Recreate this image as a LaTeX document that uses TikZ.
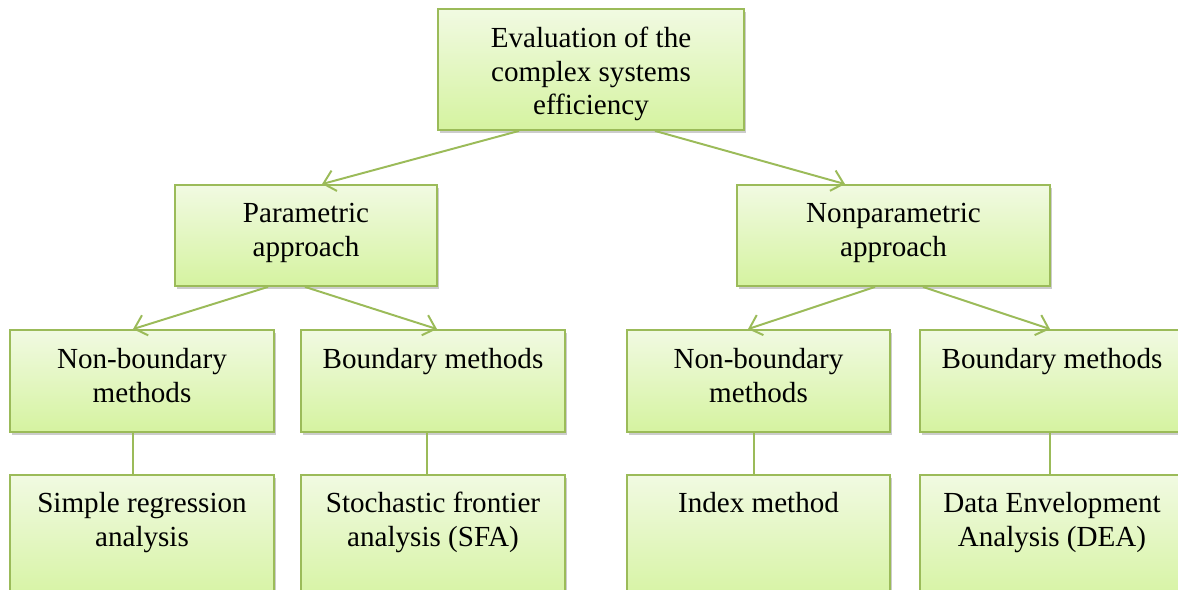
\documentclass[tikz,border=0pt]{standalone}
\usepackage{fontspec}
\setmainfont{Liberation Serif}
\usetikzlibrary{calc,shadows,arrows.meta}

\definecolor{boxline}{RGB}{155,187,89}
\definecolor{boxtop}{RGB}{241,250,226}
\definecolor{boxbottom}{RGB}{213,243,160}

\def\px{0.025cm}

\tikzset{
  box/.style={draw=boxline, line width=1.3pt, top color=boxtop, bottom color=boxbottom,
    inner sep=0, drop shadow={shadow xshift=1.6pt, shadow yshift=-2.2pt, opacity=0.4}},
  lbl/.style={inner sep=0, anchor=north, align=center,
    font=\fontsize{20.7}{23.8}\selectfont},
  link/.style={draw=boxline, line width=1.4pt},
  linkarrow/.style={link, -{Straight Barb[length=8pt, width=15pt, line width=1.4pt]}}
}

\begin{document}
\begin{tikzpicture}[x=\px, y=-\px]
  \useasboundingbox (0,0) rectangle (1178,590);
  \clip (0,0) rectangle (1178,590);

  % top
  \node[box, minimum width=306*\px, minimum height=121*\px] (eval) at (591,69.5) {};
  \node[lbl] (evaltxt) at ($ (eval.north) + (0,19) $) {Evaluation of the\\complex systems\\efficiency};

  % second row
  \node[box, minimum width=262*\px, minimum height=101*\px] (param) at (306,235.5) {};
  \node[lbl] (paramtxt) at ($ (param.north) + (0,19) $) {Parametric\\approach};
  \node[box, minimum width=313*\px, minimum height=101*\px] (nonparam) at (893.5,235.5) {};
  \node[lbl] (nonparamtxt) at ($ (nonparam.north) + (0,19) $) {Nonparametric\\approach};

  % third row
  \node[box, minimum width=264*\px, minimum height=102*\px] (nbleft) at (142,381) {};
  \node[lbl] (nblefttxt) at ($ (nbleft.north) + (0,19) $) {Non-boundary\\methods};
  \node[box, minimum width=264*\px, minimum height=102*\px] (bleft) at (433,381) {};
  \node[lbl] (blefttxt) at ($ (bleft.north) + (0,19) $) {Boundary methods};
  \node[box, minimum width=263*\px, minimum height=102*\px] (nbright) at (758.5,381) {};
  \node[lbl] (nbrighttxt) at ($ (nbright.north) + (0,19) $) {Non-boundary\\methods};
  \node[box, minimum width=264*\px, minimum height=102*\px] (bright) at (1052,381) {};
  \node[lbl] (brighttxt) at ($ (bright.north) + (0,19) $) {Boundary methods};

  % bottom row
  \node[box, minimum width=264*\px, minimum height=130*\px] (regr) at (142,540) {};
  \node[lbl] (regrtxt) at ($ (regr.north) + (0,18) $) {Simple regression\\analysis};
  \node[box, minimum width=264*\px, minimum height=130*\px] (sfa) at (433,540) {};
  \node[lbl] (sfatxt) at ($ (sfa.north) + (0,18) $) {Stochastic frontier\\analysis (SFA)};
  \node[box, minimum width=263*\px, minimum height=130*\px] (index) at (758.5,540) {};
  \node[lbl] (indextxt) at ($ (index.north) + (0,18) $) {Index method};
  \node[box, minimum width=264*\px, minimum height=130*\px] (dea) at (1052,540) {};
  \node[lbl] (deatxt) at ($ (dea.north) + (0,18) $) {Data Envelopment\\Analysis (DEA)};

  % arrows
  \draw[linkarrow] ($ (eval.south) + (-72,0) $) -- ($ (param.north) + (16,0) $);
  \draw[linkarrow] ($ (eval.south) + (64,0) $) -- ($ (nonparam.north) + (-48.5,0) $);
  \draw[linkarrow] ($ (param.south) + (-38,0) $) -- ($ (nbleft.north) + (-9,0) $);
  \draw[linkarrow] ($ (param.south) + (-1,0) $) -- ($ (bleft.north) + (4,0) $);
  \draw[linkarrow] ($ (nonparam.south) + (-18.5,0) $) -- ($ (nbright.north) + (-10.5,0) $);
  \draw[linkarrow] ($ (nonparam.south) + (29.5,0) $) -- ($ (bright.north) + (-2,0) $);

  % plain links
  \draw[link] ($ (nbleft.south) + (-9,0) $) -- ($ (regr.north) + (-9,0) $);
  \draw[link] ($ (bleft.south) + (-6,0) $) -- ($ (sfa.north) + (-6,0) $);
  \draw[link] ($ (nbright.south) + (-4.5,0) $) -- ($ (index.north) + (-4.5,0) $);
  \draw[link] ($ (bright.south) + (-2,0) $) -- ($ (dea.north) + (-2,0) $);
\end{tikzpicture}
\end{document}
